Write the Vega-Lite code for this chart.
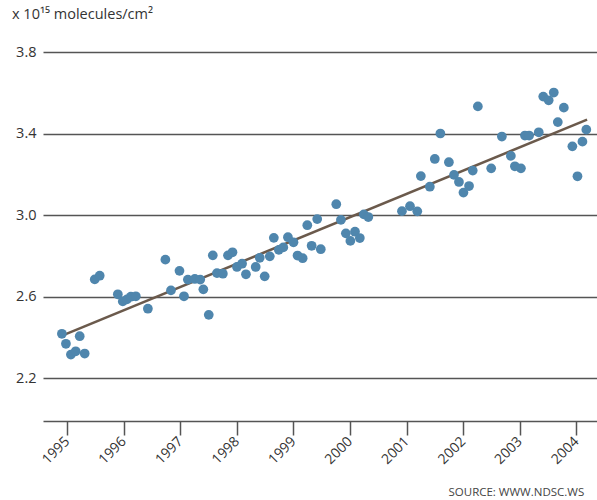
{
  "$schema": "https://vega.github.io/schema/vega-lite/v6.json",
  "width": 554,
  "height": 369,
  "autosize": "none",
  "padding": {"left": 43, "top": 52, "right": 0, "bottom": 79},
  "background": "white",
  "config": {"view": {"stroke": null}, "font": "Open Sans"},
  "title": {"text": "x 10¹⁵ molecules/cm²", "anchor": "start", "frame": "group", "dx": -31, "offset": 22, "fontSize": 14.5, "fontWeight": "normal", "color": "#333333"},
  "datasets": {
    "points": [
      {"date": "1994-11-29", "value": 2.417},
      {"date": "1994-12-25", "value": 2.368},
      {"date": "1995-01-26", "value": 2.315},
      {"date": "1995-02-26", "value": 2.331},
      {"date": "1995-03-24", "value": 2.405},
      {"date": "1995-04-25", "value": 2.320},
      {"date": "1995-06-29", "value": 2.684},
      {"date": "1995-07-31", "value": 2.702},
      {"date": "1995-11-25", "value": 2.611},
      {"date": "1995-12-27", "value": 2.576},
      {"date": "1996-01-23", "value": 2.586},
      {"date": "1996-02-17", "value": 2.599},
      {"date": "1996-03-20", "value": 2.601},
      {"date": "1996-06-06", "value": 2.540},
      {"date": "1996-09-27", "value": 2.781},
      {"date": "1996-11-02", "value": 2.630},
      {"date": "1996-12-27", "value": 2.726},
      {"date": "1997-01-25", "value": 2.601},
      {"date": "1997-02-19", "value": 2.683},
      {"date": "1997-04-05", "value": 2.686},
      {"date": "1997-05-10", "value": 2.683},
      {"date": "1997-05-30", "value": 2.635},
      {"date": "1997-07-04", "value": 2.510},
      {"date": "1997-07-30", "value": 2.802},
      {"date": "1997-08-26", "value": 2.715},
      {"date": "1997-10-03", "value": 2.712},
      {"date": "1997-11-05", "value": 2.802},
      {"date": "1997-12-04", "value": 2.817},
      {"date": "1998-01-02", "value": 2.745},
      {"date": "1998-02-04", "value": 2.761},
      {"date": "1998-03-01", "value": 2.709},
      {"date": "1998-05-03", "value": 2.745},
      {"date": "1998-05-29", "value": 2.790},
      {"date": "1998-06-30", "value": 2.699},
      {"date": "1998-08-02", "value": 2.797},
      {"date": "1998-08-28", "value": 2.888},
      {"date": "1998-09-29", "value": 2.829},
      {"date": "1998-10-28", "value": 2.841},
      {"date": "1998-11-27", "value": 2.891},
      {"date": "1999-01-02", "value": 2.866},
      {"date": "1999-01-28", "value": 2.801},
      {"date": "1999-03-02", "value": 2.788},
      {"date": "1999-04-01", "value": 2.950},
      {"date": "1999-04-29", "value": 2.849},
      {"date": "1999-06-04", "value": 2.980},
      {"date": "1999-06-27", "value": 2.832},
      {"date": "1999-10-05", "value": 3.053},
      {"date": "1999-11-04", "value": 2.976},
      {"date": "1999-12-06", "value": 2.910},
      {"date": "2000-01-04", "value": 2.873},
      {"date": "2000-02-03", "value": 2.918},
      {"date": "2000-03-05", "value": 2.887},
      {"date": "2000-03-31", "value": 3.003},
      {"date": "2000-04-29", "value": 2.990},
      {"date": "2000-12-02", "value": 3.019},
      {"date": "2001-01-23", "value": 3.043},
      {"date": "2001-03-11", "value": 3.018},
      {"date": "2001-04-03", "value": 3.191},
      {"date": "2001-05-31", "value": 3.139},
      {"date": "2001-07-02", "value": 3.275},
      {"date": "2001-08-07", "value": 3.400},
      {"date": "2001-10-01", "value": 3.259},
      {"date": "2001-11-03", "value": 3.197},
      {"date": "2001-12-05", "value": 3.162},
      {"date": "2002-01-03", "value": 3.110},
      {"date": "2002-02-08", "value": 3.142},
      {"date": "2002-03-04", "value": 3.218},
      {"date": "2002-04-06", "value": 3.533},
      {"date": "2002-07-01", "value": 3.229},
      {"date": "2002-09-08", "value": 3.385},
      {"date": "2002-11-05", "value": 3.290},
      {"date": "2002-12-01", "value": 3.239},
      {"date": "2003-01-09", "value": 3.229},
      {"date": "2003-02-04", "value": 3.390},
      {"date": "2003-03-03", "value": 3.390},
      {"date": "2003-05-04", "value": 3.406},
      {"date": "2003-06-02", "value": 3.581},
      {"date": "2003-07-07", "value": 3.563},
      {"date": "2003-08-09", "value": 3.601},
      {"date": "2003-09-04", "value": 3.456},
      {"date": "2003-10-13", "value": 3.527},
      {"date": "2003-12-07", "value": 3.337},
      {"date": "2004-01-09", "value": 3.190},
      {"date": "2004-02-10", "value": 3.360},
      {"date": "2004-03-06", "value": 3.419}
    ],
    "trend": [
      {"date": "1994-12-20", "value": 2.414},
      {"date": "2004-03-11", "value": 3.468}
    ]
  },
  "layer": [
    {
      "data": {"name": "trend"},
      "mark": {"type": "line", "color": "#6b5a4c", "strokeWidth": 2.5},
      "encoding": {
        "x": {"field": "date", "type": "temporal", "scale": {"type": "utc", "domain": [{"year": 1994, "month": 7, "date": 30, "utc": true}, {"year": 2004, "month": 5, "date": 14, "utc": true}]}},
        "y": {"field": "value", "type": "quantitative", "scale": {"domain": [1.989, 3.8], "nice": false, "zero": false}}
      }
    },
    {
      "data": {"name": "points"},
      "mark": {"type": "circle", "size": 95, "color": "#4f86ad", "opacity": 1},
      "encoding": {
        "x": {
          "field": "date", "type": "temporal",
          "scale": {"type": "utc", "domain": [{"year": 1994, "month": 7, "date": 30, "utc": true}, {"year": 2004, "month": 5, "date": 14, "utc": true}]},
          "axis": {
            "values": [
              {"year": 1995, "month": 1, "date": 1, "utc": true},
              {"year": 1996, "month": 1, "date": 1, "utc": true},
              {"year": 1997, "month": 1, "date": 1, "utc": true},
              {"year": 1998, "month": 1, "date": 1, "utc": true},
              {"year": 1999, "month": 1, "date": 1, "utc": true},
              {"year": 2000, "month": 1, "date": 1, "utc": true},
              {"year": 2001, "month": 1, "date": 1, "utc": true},
              {"year": 2002, "month": 1, "date": 1, "utc": true},
              {"year": 2003, "month": 1, "date": 1, "utc": true},
              {"year": 2004, "month": 1, "date": 1, "utc": true}
            ],
            "format": "%Y",
            "labelAngle": -45,
            "labelFontSize": 14,
            "labelColor": "#333333",
            "labelPadding": 4,
            "labelAlign": "right",
            "labelBaseline": "middle",
            "grid": false,
            "domainColor": "#555555",
            "domainWidth": 1.5,
            "tickColor": "#555555",
            "tickWidth": 1.5,
            "tickSize": 14,
            "title": "SOURCE: WWW.NDSC.WS",
            "titleX": 405,
            "titleY": 74,
            "titleAlign": "left",
            "titleBaseline": "alphabetic",
            "titleFontSize": 11.5,
            "titleFontWeight": "normal",
            "titleColor": "#444444"
          }
        },
        "y": {
          "field": "value", "type": "quantitative",
          "scale": {"domain": [1.989, 3.8], "nice": false, "zero": false},
          "axis": {
            "values": [2.2, 2.6, 3.0, 3.4, 3.8],
            "format": ".1f",
            "ticks": false,
            "domain": false,
            "grid": true,
            "gridColor": "#555555",
            "gridWidth": 1.6,
            "labelFontSize": 14.5,
            "labelColor": "#333333",
            "labelPadding": 7,
            "title": null
          }
        }
      }
    }
  ]
}
